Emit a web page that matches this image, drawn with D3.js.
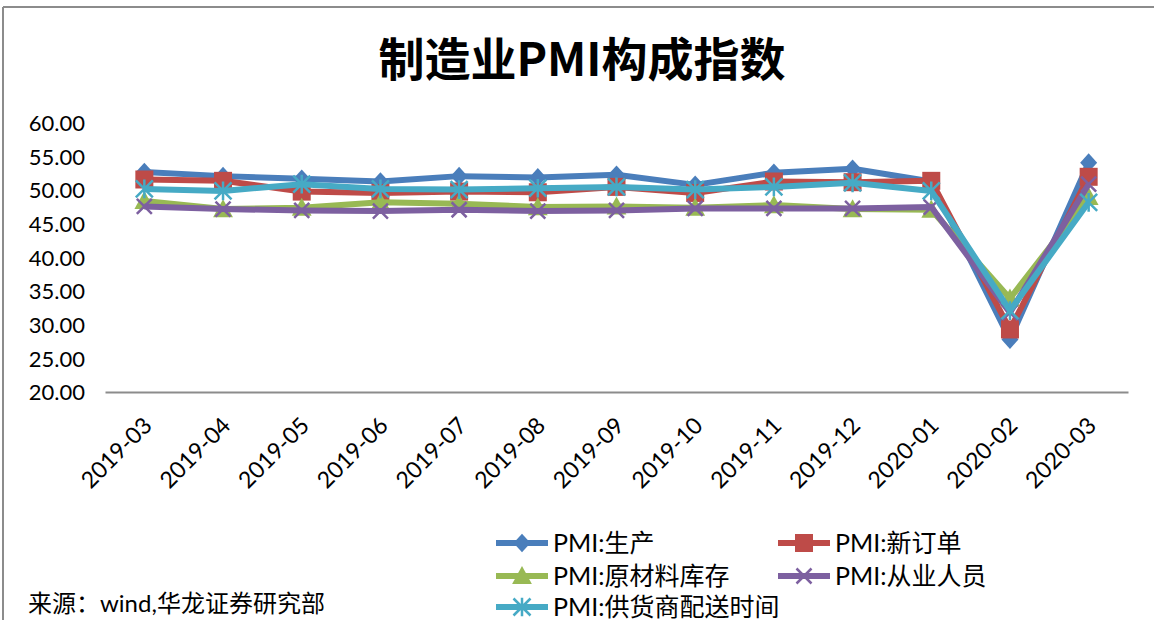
<!DOCTYPE html>
<html>
<head>
<meta charset="utf-8">
<script src="https://cdn.jsdelivr.net/npm/d3@7"></script>
<style>
  body { margin: 0; background: #fff; }
  svg text { font-family: Lato, "Noto Sans CJK SC", sans-serif; fill: #000; }
</style>
</head>
<body>
<div id="main"></div>
<script>
// categories
var months = ['2019-03','2019-04','2019-05','2019-06','2019-07','2019-08','2019-09',
              '2019-10','2019-11','2019-12','2020-01','2020-02','2020-03'];

// series values
var production     = [52.7, 52.1, 51.7, 51.3, 52.1, 51.9, 52.3, 50.8, 52.6, 53.2, 51.3, 27.8, 54.1];
var newOrders      = [51.6, 51.4, 49.8, 49.6, 49.8, 49.7, 50.5, 49.6, 51.3, 51.2, 51.4, 29.3, 52.0];
var rawInventory   = [48.4, 47.2, 47.4, 48.2, 48.0, 47.5, 47.6, 47.4, 47.8, 47.2, 47.1, 33.9, 49.0];
var employment     = [47.6, 47.2, 47.0, 46.9, 47.1, 46.9, 47.0, 47.3, 47.3, 47.3, 47.5, 31.8, 50.9];
var deliveryTime   = [50.2, 49.9, 50.9, 50.2, 50.1, 50.3, 50.5, 50.1, 50.5, 51.1, 49.9, 32.1, 48.2];

var seriesNames  = ['PMI:生产', 'PMI:新订单', 'PMI:原材料库存', 'PMI:从业人员', 'PMI:供货商配送时间'];
var yTicks = [20, 25, 30, 35, 40, 45, 50, 55, 60];

var series = [
  { name: seriesNames[0], values: production,   color: '#4a7ebb', marker: 'diamond' },
  { name: seriesNames[1], values: newOrders,    color: '#be4b48', marker: 'square' },
  { name: seriesNames[2], values: rawInventory, color: '#98b954', marker: 'triangle' },
  { name: seriesNames[3], values: employment,   color: '#7d60a0', marker: 'x' },
  { name: seriesNames[4], values: deliveryTime, color: '#46aac5', marker: 'star' }
];

var W = 1154, H = 620;
var plot = { left: 105, right: 1128, top: 123, bottom: 392 };

var svg = d3.select('#main').append('svg')
  .attr('width', W)
  .attr('height', H);

// frame (top + left edges visible)
svg.append('line').attr('x1', 3).attr('x2', W).attr('y1', 7).attr('y2', 7)
  .attr('stroke', '#8c8c8c').attr('stroke-width', 2);
svg.append('line').attr('x1', 3).attr('x2', 3).attr('y1', 7).attr('y2', H)
  .attr('stroke', '#8c8c8c').attr('stroke-width', 2);

// title
svg.append('text')
  .attr('x', 582).attr('y', 76)
  .attr('text-anchor', 'middle')
  .style('font-family', '"Noto Sans CJK SC", sans-serif')
  .style('font-weight', 'bold')
  .style('font-size', '46px')
  .text('制造业PMI构成指数');

var x = d3.scaleBand().domain(months).range([plot.left, plot.right]);
var y = d3.scaleLinear().domain([20, 60]).range([plot.bottom, plot.top]);

// y axis labels (no line)
var yAxis = svg.append('g')
  .attr('transform', 'translate(' + (plot.left - 20) + ',0)')
  .call(d3.axisLeft(y).tickValues(yTicks).tickFormat(d3.format('.2f')).tickSize(0).tickPadding(0));
yAxis.select('.domain').remove();
yAxis.selectAll('text')
  .style('font-family', 'Lato, sans-serif')
  .style('font-size', '22px')
  .attr('dy', '0.35em');

// x axis
var xAxis = svg.append('g')
  .attr('transform', 'translate(0,' + plot.bottom + ')')
  .call(d3.axisBottom(x).tickSize(0).tickPadding(0));
xAxis.select('.domain').attr('stroke', '#8c8c8c').attr('stroke-width', 2);
xAxis.selectAll('text')
  .style('font-family', 'Lato, sans-serif')
  .style('font-size', '23px')
  .attr('text-anchor', 'end')
  .attr('dy', 0)
  .attr('transform', 'translate(9,35) rotate(-45)');

// markers
function drawMarker(g, type, color, size) {
  var s = size;
  if (type === 'diamond') {
    g.append('path').attr('d', 'M0,' + (-s * 0.55) + 'L' + (s * 0.5) + ',0L0,' + (s * 0.55) + 'L' + (-s * 0.5) + ',0Z')
      .attr('fill', color);
  } else if (type === 'square') {
    g.append('rect').attr('x', -s / 2).attr('y', -s / 2).attr('width', s).attr('height', s)
      .attr('fill', color);
  } else if (type === 'triangle') {
    g.append('path').attr('d', 'M0,' + (-s * 0.55) + 'L' + (s * 0.55) + ',' + (s * 0.45) + 'L' + (-s * 0.55) + ',' + (s * 0.45) + 'Z')
      .attr('fill', color);
  } else if (type === 'x') {
    var h = s / 2;
    g.append('path').attr('d', 'M' + (-h) + ',' + (-h) + 'L' + h + ',' + h + 'M' + h + ',' + (-h) + 'L' + (-h) + ',' + h)
      .attr('stroke', color).attr('stroke-width', 2.5).attr('fill', 'none');
  } else if (type === 'star') {
    var k = s / 2;
    g.append('path').attr('d', 'M' + (-k) + ',' + (-k) + 'L' + k + ',' + k + 'M' + k + ',' + (-k) + 'L' + (-k) + ',' + k + 'M0,' + (-k * 1.1) + 'L0,' + (k * 1.1))
      .attr('stroke', color).attr('stroke-width', 2.5).attr('fill', 'none');
  }
}

var line = d3.line()
  .x(function(d, i){ return x(months[i]) + x.bandwidth() / 2; })
  .y(function(d){ return y(d); });

var sizes = { diamond: 17, square: 18, triangle: 18, x: 15, star: 17 };

series.forEach(function(s){
  var g = svg.append('g').attr('class', 'series');
  g.append('path')
    .datum(s.values)
    .attr('d', line)
    .attr('fill', 'none')
    .attr('stroke', s.color)
    .attr('stroke-width', 6)
    .attr('stroke-linejoin', 'round');
  s.values.forEach(function(v, i){
    var mg = g.append('g')
      .attr('transform', 'translate(' + (x(months[i]) + x.bandwidth() / 2) + ',' + y(v) + ')');
    drawMarker(mg, s.marker, s.color, sizes[s.marker]);
  });
});

// legend
var legendPos = [
  { x: 496, y: 543 }, { x: 778, y: 543 },
  { x: 496, y: 576 }, { x: 778, y: 576 },
  { x: 496, y: 607 }
];
series.forEach(function(s, i){
  var p = legendPos[i];
  var lg = svg.append('g').attr('transform', 'translate(' + p.x + ',' + p.y + ')');
  lg.append('line').attr('x1', 0).attr('x2', 52).attr('y1', 0).attr('y2', 0)
    .attr('stroke', s.color).attr('stroke-width', 6);
  var mg = lg.append('g').attr('transform', 'translate(26,0)');
  drawMarker(mg, s.marker, s.color, sizes[s.marker]);
  lg.append('text')
    .attr('x', 57).attr('y', 0).attr('dy', '0.35em')
    .style('font-size', '25px')
    .text(s.name);
});

// source
svg.append('text')
  .attr('x', 28).attr('y', 612)
  .style('font-size', '24px')
  .text('来源：wind,华龙证券研究部');
</script>
</body>
</html>
